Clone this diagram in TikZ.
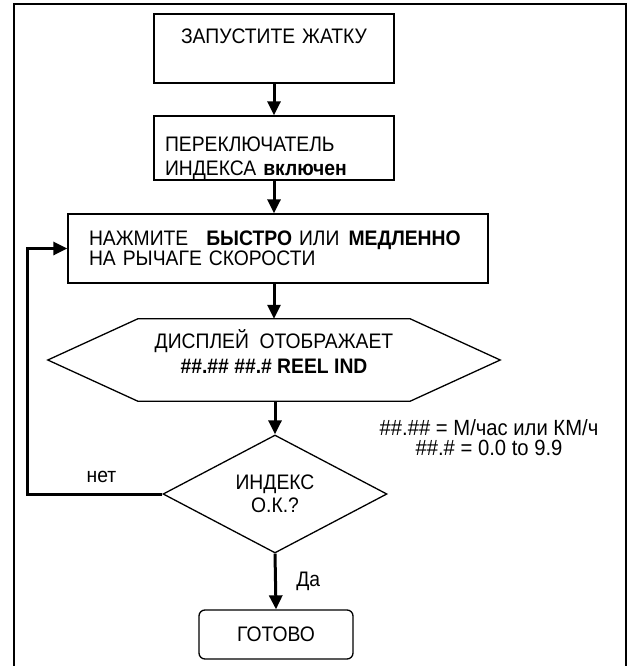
\documentclass[tikz,border=0pt]{standalone}
\usepackage{fontspec}
\setmainfont[FakeStretch=0.92]{Liberation Sans}
\usetikzlibrary{arrows.meta,shapes.geometric}

\tikzset{
  flow/.style={-{Triangle[length=14pt,width=13pt]}, line width=3pt},
  stepbox/.style={draw, line width=1.3pt, inner xsep=11pt, inner ysep=0pt,
    text width=218pt, minimum height=#1, font=\fontsize{21}{24}\selectfont},
  stepbox/.default=64pt,
  hexbox/.style={minimum width=272pt, minimum height=82pt, inner sep=0pt},
  decision/.style={diamond, draw, line width=1.3pt, aspect=1.9, inner sep=0pt,
    minimum width=224pt, minimum height=118pt, align=center,
    font=\fontsize{21}{23}\selectfont},
  endbox/.style={draw, line width=1.3pt, rounded corners=6pt,
    minimum width=154pt, minimum height=49pt, font=\fontsize{21}{20}\selectfont},
  note/.style={align=center, font=\fontsize{22}{20}\selectfont}
}

\begin{document}
\begin{tikzpicture}[x=1pt, y=-1pt]
\useasboundingbox (0,0) rectangle (633,666);
\draw[line width=2pt] (14,680) -- (14,4) -- (626,4) -- (626,680);

\node[stepbox=69pt, align=center] (start) at (274,48.5) {ЗАПУСТИТЕ ЖАТКУ\\ \mbox{}};
\node[stepbox, align=left, text height=35pt] (index) at (274,148) {ПЕРЕКЛЮЧАТЕЛЬ\\ИНДЕКСА \textbf{включен}};
\node[stepbox=69pt, align=left, inner xsep=21pt, text width=378pt,
  font=\fontsize{21}{20}\selectfont] (press) at (278,248.5)
  {\mbox{НАЖМИТЕ\hspace{18pt}\textbf{БЫСТРО} ИЛИ\hspace{9pt}\textbf{МЕДЛЕННО}}\\НА РЫЧАГЕ СКОРОСТИ};

\node[hexbox] (disp) at (274,360) {};
\draw[line width=1.3pt] (disp.north west) -- (disp.north east) -- ([xshift=90pt]disp.east)
  -- (disp.south east) -- (disp.south west) -- ([xshift=-90pt]disp.west) -- cycle;
\node[align=center, font=\fontsize{21}{25}\selectfont] (disptxt) at (274,352)
  {ДИСПЛЕЙ\ \ ОТОБРАЖАЕТ\\\textbf{\#\#.\#\# \#\#.\# REEL IND}};

\node[decision] (ok) at (275,494) {ИНДЕКС\\О.К.?};
\node[endbox] (done) at (276,634.5) {ГОТОВО};
\node[note] (units) at (489,438) {\#\#.\#\# = М/час или КМ/ч\\\#\#.\# = 0.0 to 9.9};

\coordinate (back) at (27,494);

\draw[flow] (start) -- (index);
\draw[flow] (index.south) -- (index.south |- press.north);
\draw[flow] (press.south -| disp) -- (disp.north);
\draw[flow] (disp.south -| ok) -- (ok.north);
\draw[flow] (ok.south) -- node[right=16pt, font=\fontsize{21}{20}\selectfont] (yes) {Да} (done.north);
\draw[flow] (ok.west) -- node[above=6pt, pos=0.45, font=\fontsize{21}{20}\selectfont] (no) {нет} (back) |- (press.west);
\end{tikzpicture}
\end{document}
